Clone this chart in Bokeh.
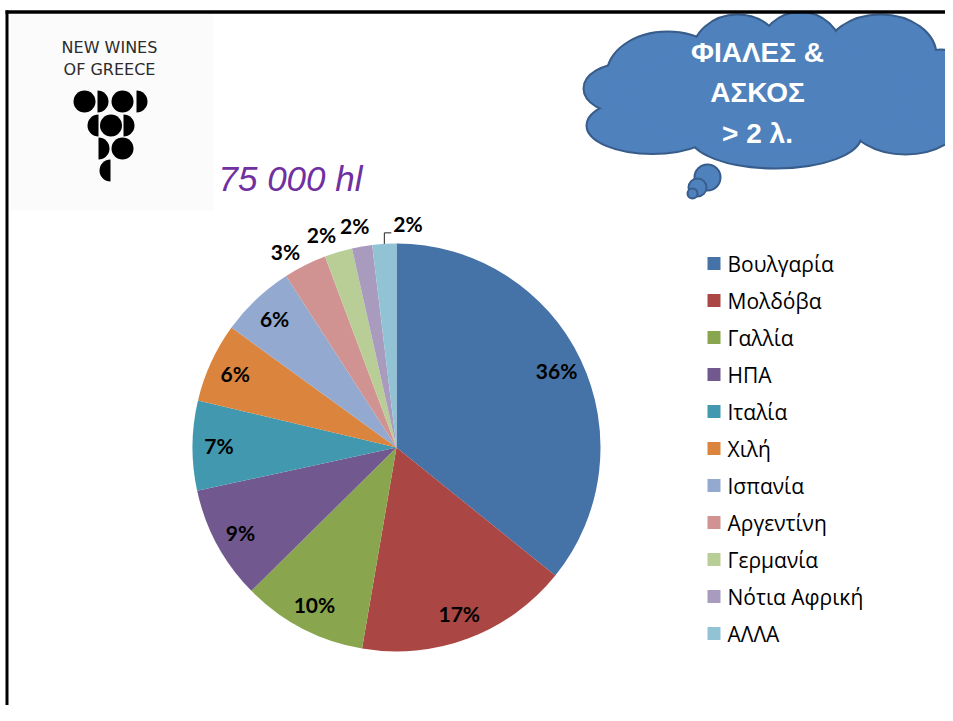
import numpy as np
from bokeh.plotting import figure
from bokeh.models import Range1d, ColumnDataSource
from bokeh.core.properties import value
from bokeh.embed import file_html
from bokeh.resources import INLINE

# ---------------- data ----------------
countries = ["Βουλγαρία", "Μολδόβα", "Γαλλία", "ΗΠΑ", "Ιταλία", "Χιλή",
             "Ισπανία", "Αργεντίνη", "Γερμανία", "Νότια Αφρική", "ΑΛΛΑ"]
shares = [35.8, 16.9, 9.9, 9.0, 7.1, 6.3, 5.9, 3.4, 2.2, 1.6, 1.9]
labels = ["36%", "17%", "10%", "9%", "7%", "6%", "6%", "3%", "2%", "2%", "2%"]
colors = ["#4572A7", "#AA4643", "#89A54E", "#71588F", "#4198AF", "#DB843D",
          "#93A9CF", "#D19392", "#B9CD96", "#A99BBD", "#92C3D4"]
headline = "75 000 hl"
cloud_lines = ["ΦΙΑΛΕΣ &", "ΑΣΚΟΣ", "> 2 λ."]
logo_lines = ["NEW WINES", "OF GREECE"]

# ---------------- figure (data coords = picture px, y flipped) ----------------
W, H = 945, 705
p = figure(width=W, height=H, x_range=Range1d(0, W), y_range=Range1d(721 - H, 721),
           output_backend="svg", toolbar_location=None, min_border=0)
p.axis.visible = False
p.grid.visible = False
p.outline_line_color = None
p.background_fill_color = "white"
p.border_fill_color = "white"


def Y(py):
    return 721 - np.asarray(py, dtype=float)


# ---------------- logo ----------------
p.quad(left=[8], right=[213], top=[Y(14)], bottom=[Y(210)], fill_color="#FBFBFB", line_color=None)
p.text(x=[109, 109], y=list(Y([47, 69])), text=logo_lines, text_align="center",
       text_baseline="middle", text_font=value("DejaVu Sans"), text_font_size="16px",
       text_color="#2b2b2b")
gr = 11
full_x = [84, 122, 110.5, 122]
full_y = [101, 101, 125, 148]
p.ellipse(x=full_x, y=list(Y(full_y)), width=2 * gr, height=2 * gr, fill_color="black", line_color=None)
hr_x = [97, 136, 123, 98]
hr_y = [101, 101, 125, 148]
p.wedge(x=hr_x, y=list(Y(hr_y)), radius=gr, start_angle=-np.pi / 2, end_angle=np.pi / 2,
        direction="anticlock", fill_color="black", line_color=None)
hl_x = [98, 110]
hl_y = [125, 170]
p.wedge(x=hl_x, y=list(Y(hl_y)), radius=gr, start_angle=np.pi / 2, end_angle=3 * np.pi / 2,
        direction="anticlock", fill_color="black", line_color=None)

# ---------------- headline ----------------
p.text(x=[218], y=[Y(178)], text=[headline], text_align="left", text_baseline="middle",
       text_font=value("Liberation Sans"), text_font_style="italic",
       text_font_size="35px", text_color="#7030A0")

# ---------------- cloud ----------------
cloud_fill, cloud_line = "#4F81BD", "#385D8A"
lobes = [  # cx, cy, w, h (picture px)
    (624, 88, 80, 48),
    (652, 125, 130, 55),
    (775, 135, 170, 64),
    (905, 120, 110, 66),
    (940, 90, 80, 80),
    (880, 55, 110, 80),
    (800, 50, 80, 75),
    (737, 55, 90, 80),
    (667, 75, 120, 86),
    (770, 95, 280, 110),
]
lx = [l[0] for l in lobes]
ly = list(Y([l[1] for l in lobes]))
lw = [l[2] for l in lobes]
lh = [l[3] for l in lobes]
p.ellipse(x=lx, y=ly, width=lw, height=lh, fill_color=cloud_fill, line_color=cloud_line, line_width=4)
p.ellipse(x=lx, y=ly, width=lw, height=lh, fill_color=cloud_fill, line_color=None)
for bx, by, br in [(707, 177, 13), (697, 187, 9), (692, 193, 5)]:
    p.ellipse(x=[bx], y=[Y(by)], width=2 * br, height=2 * br, fill_color=cloud_fill,
              line_color=cloud_line, line_width=2)
p.text(x=[757, 757, 757], y=list(Y([52, 92, 133])), text=cloud_lines, text_align="center",
       text_baseline="middle", text_font=value("Liberation Sans"), text_font_style="bold",
       text_font_size="28px", text_color="white")

# ---------------- slide border ----------------
p.segment(x0=[5], y0=[Y(11.5)], x1=[953], y1=[Y(11.5)], line_color="black", line_width=3.5)
p.segment(x0=[6.5], y0=[Y(10)], x1=[6.5], y1=[Y(721)], line_color="black", line_width=3)

# ---------------- pie ----------------
cx, cy, R = 396, Y(447), 204
vals = np.array(shares, dtype=float)
cum = np.concatenate([[0], np.cumsum(vals)]) / vals.sum()
start = np.pi / 2 - cum[:-1] * 2 * np.pi
end = np.pi / 2 - cum[1:] * 2 * np.pi
src = ColumnDataSource(dict(start=start, end=end, color=colors, country=countries))
p.wedge(x=cx, y=cy, radius=R, start_angle="start", end_angle="end", direction="clock",
        fill_color="color", line_color=None, source=src)

mid = (cum[:-1] + cum[1:]) / 2 * 2 * np.pi
outside = vals < 4
ang = np.where(outside, mid - 0.05, mid)
ang[9] = mid[9] - 0.017
rl = np.where(outside, 1.105 * R, 0.87 * R)
lab_x = cx + rl * np.sin(ang)
lab_y = cy + rl * np.cos(ang)
align = ["center"] * len(vals)
# last slice: label with leader line
ex = cx + R * np.sin(mid[-1])
ey = cy + R * np.cos(mid[-1])
p.line(x=[ex, ex, ex + 7], y=[ey, ey + 11, ey + 11], line_color="#222222", line_width=1)
lab_x[-1] = ex + 9
lab_y[-1] = ey + 20
align[-1] = "left"
p.text(x=list(lab_x), y=list(lab_y), text=labels, text_align=align, text_baseline="middle",
       text_font=value("Lato"), text_font_style="bold", text_font_size="21px", text_color="black")

# ---------------- legend ----------------
idx = np.arange(len(countries))
leg_y = Y(263 + idx * 37.0)
p.scatter(x=[713.5] * len(countries), y=list(leg_y), marker="square", size=13,
          fill_color=colors, line_color=None)
p.text(x=[727] * len(countries), y=list(leg_y), text=countries, text_align="left",
       text_baseline="middle", text_font=value("Open Sans"), text_font_size="21px",
       text_color="black")

open("out.html", "w").write(file_html(p, INLINE))
